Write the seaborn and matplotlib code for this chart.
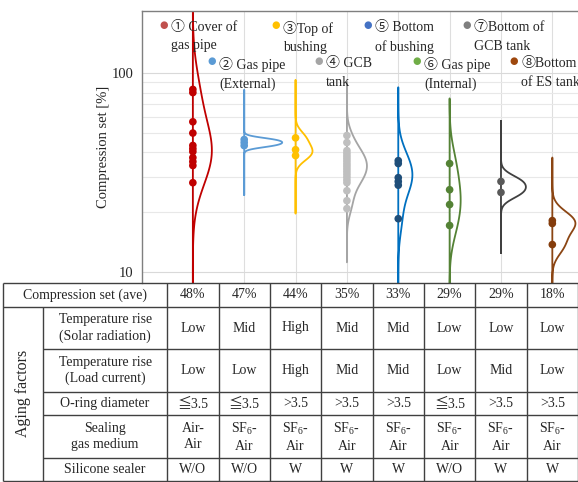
import numpy as np
import pandas as pd
import matplotlib
matplotlib.use("Agg")
import matplotlib.pyplot as plt
import seaborn as sns
from matplotlib.ticker import FixedLocator, NullFormatter

# ---- data ----
locations = ["Cover of gas pipe", "Gas pipe (External)", "Top of bushing", "GCB tank",
             "Bottom of bushing", "Gas pipe (Internal)", "Bottom of GCB tank", "Bottom of ES tank"]

cover_gas_pipe = [83, 80, 57, 50, 43.3, 41.7, 40.3, 37.6, 35.9, 34.3, 28.1]
gas_pipe_ext = [46.4, 44.8, 43.2]
top_bushing = [47.3, 41.2, 38.5]
gcb_tank = [48.6, 44.8, 40.8, 39.5, 38.3, 37.2, 36.1, 35.0, 34.0, 33.0, 32.0,
            31.0, 30.0, 29.0, 28.1, 25.6, 22.8, 20.8]
bottom_bushing = [36.3, 35.1, 29.8, 28.5, 27.3, 18.5]
gas_pipe_int = [35.1, 25.9, 21.8, 17.1]
bottom_gcb = [28.5, 25.1]
bottom_es = [18.1, 17.5, 13.7]
values = [cover_gas_pipe, gas_pipe_ext, top_bushing, gcb_tank,
          bottom_bushing, gas_pipe_int, bottom_gcb, bottom_es]

legend_labels = ["\u2460 Cover of\ngas pipe", "\u2461 Gas pipe\n(External)", "\u2462Top of\nbushing",
                 "\u2463 GCB\ntank", "\u2464 Bottom\nof bushing", "\u2465 Gas pipe\n(Internal)",
                 "\u2466Bottom of\nGCB tank", "\u2467Bottom\nof ES tank"]

ave_set = ["48%", "47%", "44%", "35%", "33%", "29%", "29%", "18%"]
temp_solar = ["Low", "Mid", "High", "Mid", "Mid", "Low", "Low", "Low"]
temp_load = ["Low", "Low", "High", "Mid", "Mid", "Low", "Mid", "Low"]
oring_dia = ["\u22663.5", "\u22663.5", ">3.5", ">3.5", ">3.5", "\u22663.5", ">3.5", ">3.5"]
gas_medium = ["Air-\nAir"] + ["SF$_6$-\nAir"] * 7
silicone = ["W/O", "W/O", "W", "W", "W", "W/O", "W", "W"]
row_names = ["Temperature rise\n(Solar radiation)", "Temperature rise\n(Load current)",
             "O-ring diameter", "Sealing\ngas medium", "Silicone sealer"]

# ---- styles ----
line_colors = ["#c00000", "#5b9bd5", "#ffc000", "#a5a5a5", "#0070c0", "#548235", "#404040", "#8b4513"]
dot_colors = ["#c00000", "#5b9bd5", "#ffc000", "#bfbfbf", "#1f4e79", "#548235", "#595959", "#843c0c"]
legend_colors = ["#c0504d", "#5b9bd5", "#ffc000", "#a5a5a5", "#4472c4", "#70ad47", "#7f7f7f", "#9e480e"]
widths = [0.74, 1.48, 0.66, 0.78, 0.55, 0.43, 0.97, 0.9]
cuts = [5, 20, 8, 5, 4.2, 3.3, 9, 6]
bw_adj = [1.5, 1, 1, 1, 1.2, 1, 1, 1]

sns.set_style("white")
plt.rcParams['font.family'] = ['Liberation Serif', 'Noto Sans CJK JP', 'DejaVu Sans']
plt.rcParams['mathtext.fontset'] = 'custom'
plt.rcParams['mathtext.rm'] = 'Liberation Serif'

df = pd.DataFrame({
    "location": np.repeat(locations, [len(v) for v in values]),
    "value": np.concatenate(values),
})
df["side"] = "right"

W, H = 578, 482
fig = plt.figure(figsize=(W / 100, H / 100), dpi=100)
ax_left, ax_top, ax_bot = 141.5, 10.7, 283
ax = fig.add_axes([ax_left / W, 1 - ax_bot / H, 1 - ax_left / W, (ax_bot - ax_top) / H])

# half violins on the right of each category (second hue level, dodged split)
for i, loc in enumerate(locations):
    sub = df[df["location"] == loc]
    sns.violinplot(data=sub, x="location", y="value", hue="side", hue_order=["left", "right"],
                   order=locations, split=True, dodge=True, inner=None, fill=False,
                   cut=cuts[i], bw_adjust=bw_adj[i], width=widths[i], gridsize=300,
                   palette=[line_colors[i]] * 2, linewidth=1.3, log_scale=True,
                   legend=False, ax=ax)

sns.stripplot(data=df, x="location", y="value", hue="location", order=locations,
              hue_order=locations, palette=dot_colors, jitter=False, size=5.5,
              linewidth=0, legend=False, ax=ax, zorder=3)

ax.set_xlim(-1, 7.5)
ax.set_ylim(8.77, 207)
ax.set_yticks([10, 100])
ax.set_yticklabels(["10", "100"])
ax.yaxis.set_minor_locator(FixedLocator([20, 30, 40, 50, 60, 70, 80, 90]))
ax.yaxis.set_minor_formatter(NullFormatter())
ax.set_xticks(range(len(locations)))
ax.set_xticklabels([])
ax.tick_params(axis="both", which="both", length=0, labelsize=10.5, pad=6)
ax.grid(True, axis="x", color="#dedede", lw=0.8)
ax.grid(True, axis="y", which="major", color="#d9d9d9", lw=0.8)
ax.grid(True, axis="y", which="minor", color="#e8e8e8", lw=0.8)
ax.set_axisbelow(True)
ax.set_xlabel("")
ax.set_ylabel("Compression set [%]", fontsize=10.5, labelpad=1)
for s in ["right", "bottom"]:
    ax.spines[s].set_visible(False)
for s in ["left", "top"]:
    ax.spines[s].set_color("#7f7f7f")
    ax.spines[s].set_linewidth(1.0)

# ---- legend (two staggered rows) ----
leg_dot_x = [164, 212, 276, 319, 368, 417, 467, 514]
leg_row_y = [25, 61]
for i, lab in enumerate(legend_labels):
    yc = leg_row_y[i % 2]
    fig.text(leg_dot_x[i] / W, 1 - yc / H, "\u25cf", color=legend_colors[i], fontsize=7,
             ha="center", va="center", family="DejaVu Sans")
    fig.text((leg_dot_x[i] + 7) / W, 1 - (yc - 3.5) / H, lab, fontsize=10, ha="left",
             va="top", linespacing=1.5)

# ---- table below the plot ----
unit = (W - ax_left) / 8.5
def pos(px):
    return -1 + (px - ax_left) / unit

tab = fig.add_axes([0, 0, 1, 1 - ax_bot / H])
tab.set_xlim(pos(0), pos(W))
tab.set_ylim(H, ax_bot)
tab.axis("off")

rows = [283, 307, 349, 392, 415, 458, 480.5]
x_out, x_grp = pos(3), pos(43)
lc, lw = "#404040", 1.0
col_lines = [x_out] + list(-0.5 + np.arange(9))
tab.hlines([rows[0], rows[1], rows[-1]], x_out, 7.5, color=lc, lw=lw, clip_on=False)
tab.hlines(rows[2:-1], x_grp, 7.5, color=lc, lw=lw, clip_on=False)
tab.vlines(col_lines, rows[0], rows[-1], color=lc, lw=lw, clip_on=False)
tab.vlines(x_grp, rows[1], rows[-1], color=lc, lw=lw, clip_on=False)

centers = [(rows[k] + rows[k + 1]) / 2 for k in range(len(rows) - 1)]
tab.text((x_out - 0.5) / 2, centers[0], "Compression set (ave)", ha="center", va="center", fontsize=10)
tab.text((x_out + x_grp) / 2, (rows[1] + rows[-1]) / 2, "Aging factors", rotation=90,
         ha="center", va="center", fontsize=11.5)
for k, name in enumerate(row_names):
    tab.text((x_grp - 0.5) / 2, centers[k + 1], name, ha="center", va="center",
             fontsize=10, linespacing=1.3)
table_rows = [ave_set, temp_solar, temp_load, oring_dia, gas_medium, silicone]
for k, row in enumerate(table_rows):
    for j, val in enumerate(row):
        tab.text(j, centers[k], val, ha="center", va="center", fontsize=10, linespacing=1.3)

fig.savefig("out.png", dpi=100)
